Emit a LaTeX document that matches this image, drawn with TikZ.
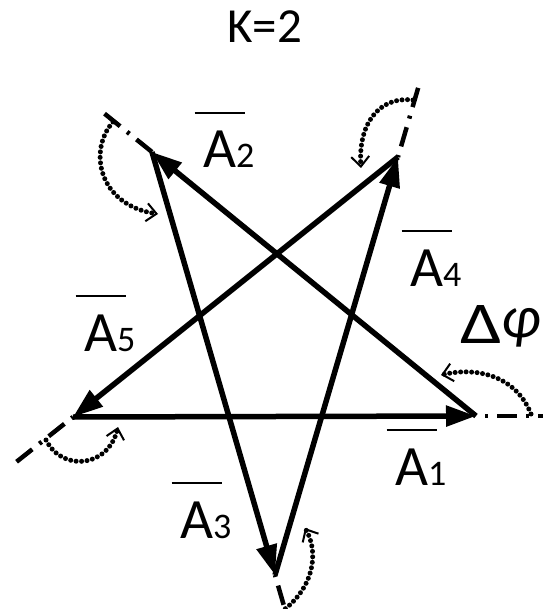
\documentclass[tikz,border=0pt]{standalone}
\usepackage{fontspec}
\setmainfont{Carlito}
\usetikzlibrary{arrows.meta}
\newcommand\vlab[1]{\fontsize{57}{57}\selectfont\ooalign{A\cr\hidewidth\rule[54pt]{50pt}{2.2pt}\hidewidth\cr}{\fontsize{36}{36}\selectfont #1}}
\tikzset{
  vec/.style={line width=5.5pt, -{Triangle[length=30pt,width=20pt]}},
  ext/.style={line width=4.5pt, dash pattern=on 20pt off 9pt on 3pt off 9pt},
  turn/.style={line width=5pt, line cap=round, dash pattern=on 0pt off 5.5pt,
     -{Straight Barb[length=10pt,width=18pt,line width=2pt]}},
  lab/.style={anchor=base west, inner sep=0pt},
}
\begin{document}
\begin{tikzpicture}[x=1pt,y=-1pt]
\useasboundingbox (0,0) rectangle (542,609);
% vertices
\coordinate (p1) at (476,416);
\coordinate (p2) at (152,152);
\coordinate (p3) at (275,575);
\coordinate (p4) at (398,157);
\coordinate (p5) at (73,417);
% extension ends
\coordinate (e1) at (548,416);
\coordinate (e2) at (100,110);
\coordinate (e3) at (284,606);
\coordinate (e4) at (419,85);
\coordinate (e5) at (15,463);
% extension lines
\draw[ext, dash phase=20pt] (p1) -- (e1);
\draw[ext, dash phase=0pt] (p2) -- (e2);
\draw[ext, dash phase=30pt] (p3) -- (e3);
\draw[ext, dash phase=30pt] (p4) -- (e4);
\draw[ext, dash phase=30pt] (p5) -- (e5);
% vectors
\draw[vec] (p5) -- (p1);
\draw[vec] (p1) -- (p2);
\draw[vec] (p2) -- (p3);
\draw[vec] (p3) -- (p4);
\draw[vec] (p4) -- (p5);
% turning arcs
\coordinate (s1) at (531,414); \coordinate (t1) at (441,375);
\coordinate (s2) at (113,122); \coordinate (t2) at (158,214);
\coordinate (s3) at (281,612); \coordinate (t3) at (305,528);
\coordinate (s4) at (413,100); \coordinate (t4) at (361,168);
\coordinate (s5) at (46,440);  \coordinate (t5) at (118,427);
\draw[turn] (s1) .. controls (517,378) and (480,366) .. (t1);
\draw[turn] (s2) .. controls (88,150) and (98,205) .. (t2);
\draw[turn] (s3) .. controls (312,590) and (320,555) .. (t3);
\draw[turn] (s4) .. controls (378,96) and (358,125) .. (t4);
\draw[turn] (s5) .. controls (62,472) and (108,468) .. (t5);
% labels
\node[lab] (k) at (227,43) {\fontsize{49}{49}\selectfont K=2};
\node[lab] (a1) at (395,485) {\vlab{1}};
\node[lab] (a2) at (203,168) {\vlab{2}};
\node[lab] (a3) at (180,538) {\vlab{3}};
\node[lab] (a4) at (410,286) {\vlab{4}};
\node[lab] (a5) at (84,351) {\vlab{5}};
\node[lab] (dphi) at (460,343) {\fontsize{74}{74}\selectfont\scalebox{1}[0.8]{Δ}\raisebox{6pt}{\fontsize{60}{60}\selectfont\itshape φ}};
\end{tikzpicture}
\end{document}
